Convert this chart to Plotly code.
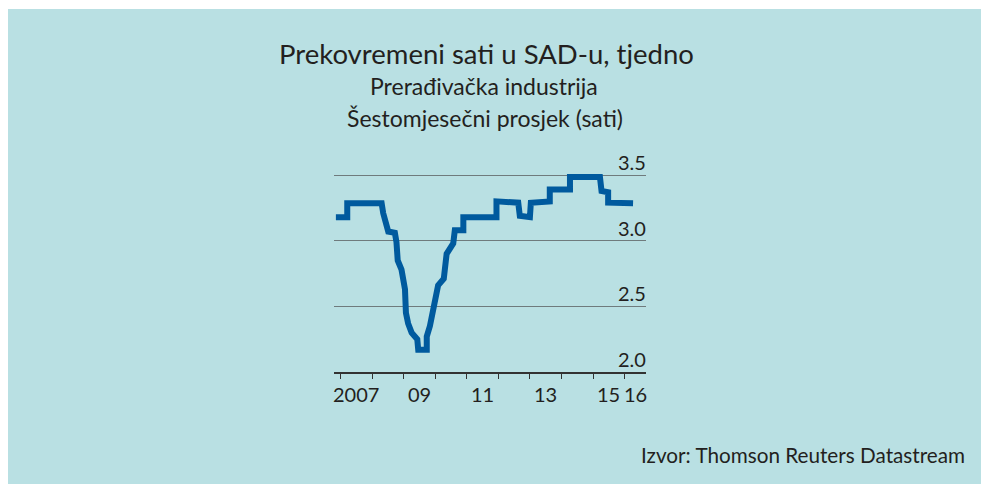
import plotly.graph_objects as go

# ---- data (decimal years, hours) ----
years = [2006.85, 2007.21, 2007.21, 2008.30, 2008.35, 2008.51, 2008.72, 2008.77,
         2008.81, 2008.93, 2009.04, 2009.07, 2009.14, 2009.25, 2009.43, 2009.46,
         2009.73, 2009.73, 2009.83, 2009.94, 2010.09, 2010.27, 2010.36, 2010.57,
         2010.62, 2010.89, 2010.89, 2011.94, 2011.94, 2012.63, 2012.68, 2013.00,
         2013.03, 2013.63, 2013.63, 2014.27, 2014.27, 2015.22, 2015.27, 2015.48,
         2015.48, 2016.27]
hours = [3.18, 3.18, 3.285, 3.285, 3.21, 3.07, 3.06, 2.99,
         2.85, 2.78, 2.63, 2.45, 2.37, 2.30, 2.25, 2.17,
         2.17, 2.27, 2.35, 2.475, 2.66, 2.71, 2.90, 2.98,
         3.08, 3.08, 3.18, 3.18, 3.30, 3.29, 3.19, 3.18,
         3.29, 3.30, 3.39, 3.39, 3.485, 3.485, 3.38, 3.37,
         3.29, 3.285]

year_ticks = [2007, 2008, 2009, 2010, 2011, 2012, 2013, 2014, 2015, 2016]
year_label_pos = [2007.5, 2009.5, 2011.5, 2013.5, 2015.5, 2016.35]
year_labels = ["2007", "09", "11", "13", "15", "16"]
y_ticks = [2.0, 2.5, 3.0, 3.5]
y_labels = ["2.0", "2.5", "3.0", "3.5"]

title = "Prekovremeni sati u SAD-u, tjedno"
subtitle1 = "Prerađivačka industrija"
subtitle2 = "Šestomjesečni prosjek (sati)"
source = "Izvor: Thomson Reuters Datastream"

FONT = "Lato"
TEXT = "#231f20"
PANEL = "#b9e0e3"
BLUE = "#005a9e"

W, H = 989, 484
OFF = 8  # page body margin of the html
# plot area on screen: x 334..646, y 162..372
L, T = 334 - OFF, 162 - OFF
plot_w, plot_h = 312, 210
R = W - L - plot_w
B = H - T - plot_h


def px_x(x):
    return (x - 334) / plot_w


def px_y(y):
    return (372 - y) / plot_h


fig = go.Figure()
fig.add_trace(go.Scatter(
    x=years, y=hours, mode="lines",
    line=dict(color=BLUE, width=6),
    hoverinfo="skip", showlegend=False
))

annotations = []
for pos, lab in zip(year_label_pos, year_labels):
    annotations.append(dict(x=pos, xref="x", y=0, yref="paper", text=lab,
                            showarrow=False, xanchor="center", yanchor="top",
                            yshift=-8, font=dict(family=FONT, size=20, color=TEXT)))
for val, lab in zip(y_ticks, y_labels):
    annotations.append(dict(x=1, xref="paper", y=val, yref="y", text=lab,
                            showarrow=False, xanchor="right", yanchor="bottom",
                            xshift=2, yshift=-1, font=dict(family=FONT, size=20, color=TEXT)))

annotations += [
    dict(x=px_x(486), y=px_y(53), xref="paper", yref="paper", text=title,
         showarrow=False, xanchor="center", yanchor="middle",
         font=dict(family=FONT, size=27.5, color=TEXT)),
    dict(x=px_x(484), y=px_y(86), xref="paper", yref="paper", text=subtitle1,
         showarrow=False, xanchor="center", yanchor="middle",
         font=dict(family=FONT, size=23, color=TEXT)),
    dict(x=px_x(485), y=px_y(118), xref="paper", yref="paper", text=subtitle2,
         showarrow=False, xanchor="center", yanchor="middle",
         font=dict(family=FONT, size=23, color=TEXT)),
    dict(x=px_x(967), y=px_y(455), xref="paper", yref="paper", text=source,
         showarrow=False, xanchor="right", yanchor="middle",
         font=dict(family=FONT, size=20.7, color=TEXT)),
]

fig.update_layout(
    width=W, height=H,
    margin=dict(l=L, r=R, t=T, b=B, pad=0),
    paper_bgcolor="white",
    plot_bgcolor="rgba(0,0,0,0)",
    showlegend=False,
    shapes=[dict(type="rect", xref="paper", yref="paper", layer="below",
                 x0=px_x(7), x1=px_x(988), y0=px_y(500), y1=px_y(9),
                 fillcolor=PANEL, line=dict(width=0))],
    annotations=annotations,
    xaxis=dict(range=[2006.79, 2016.68], tickvals=year_ticks, showticklabels=False,
               ticks="outside", ticklen=5, tickwidth=1, tickcolor="#333333",
               showgrid=False, zeroline=False, showline=True,
               linecolor="#333333", linewidth=2, fixedrange=True),
    yaxis=dict(range=[2.0, 3.6], tickvals=[2.5, 3.0, 3.5], showticklabels=False,
               showgrid=True, gridcolor="#6f7b7d", gridwidth=1,
               zeroline=False, showline=False, fixedrange=True),
)

fig.write_html("out.html")
